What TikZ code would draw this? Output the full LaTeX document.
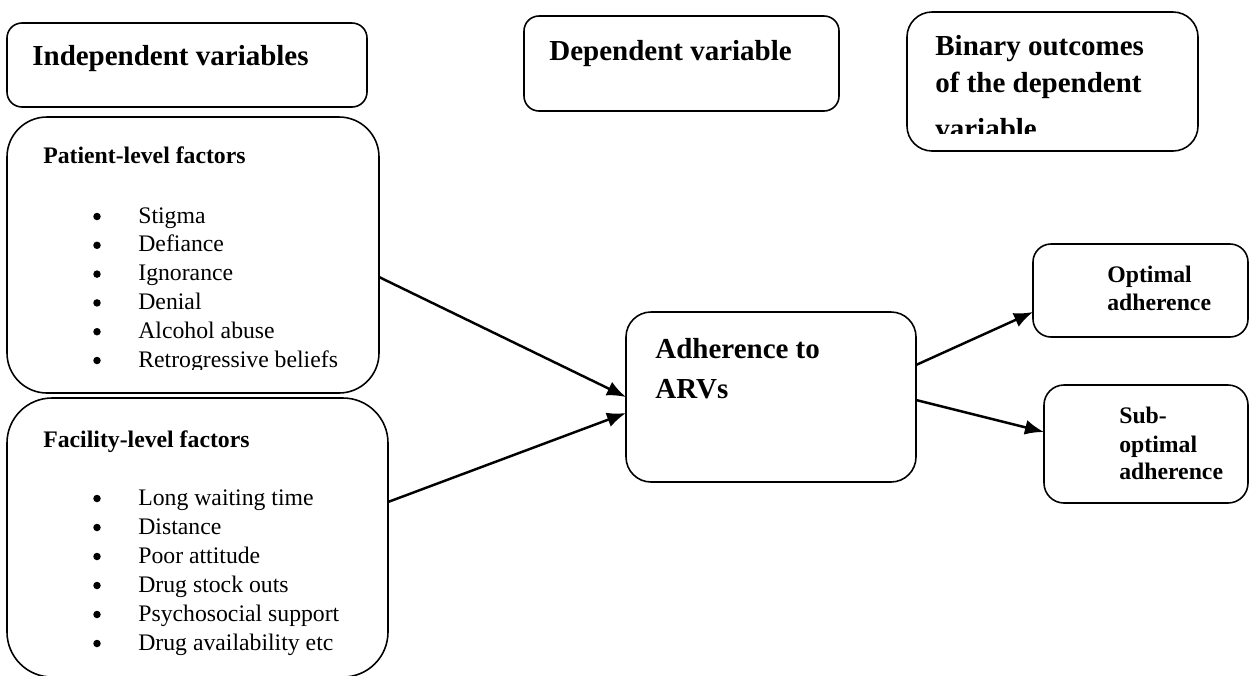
\documentclass[tikz,border=0pt]{standalone}
\usepackage{fontspec}
\setmainfont{Liberation Serif}
\usetikzlibrary{arrows.meta,positioning}
\tikzset{box/.style={draw,black,line width=0.9pt,rounded corners=#1,inner sep=0pt,outer sep=0pt}, box/.default=0.3cm}
\tikzset{hd/.style={font=\fontsize{16.5}{20}\selectfont\bfseries,inner sep=0pt,anchor=base west},
  sm/.style={font=\fontsize{13.5}{16}\selectfont\bfseries,inner sep=0pt,anchor=base west},
  itm/.style={font=\fontsize{13.5}{16}\selectfont,inner sep=0pt,anchor=base west},
  bul/.style={circle,fill=black,inner sep=0pt,minimum size=0.15cm},
  link/.style={black,-{Latex[length=0.38cm,width=0.3cm]},line width=1.4pt}}

\begin{document}
\begin{tikzpicture}
  \useasboundingbox (0,0) rectangle (25,-13.5);
  \clip (0,0) rectangle (25,-13.5);
  \node[box=0.3cm,  minimum width=7.20cm, minimum height=1.68cm] (ind) at ( 3.74, -1.30) {};
  \node[box=0.8cm,  minimum width=7.44cm, minimum height=5.52cm] (pat) at ( 3.86, -5.10) {};
  \node[box=0.9cm,  minimum width=7.62cm, minimum height=5.58cm] (fac) at ( 3.95,-10.75) {};
  \node[box=0.3cm,  minimum width=6.30cm, minimum height=1.90cm] (dep) at (13.63, -1.27) {};
  \node[box=0.5cm,  minimum width=5.82cm, minimum height=2.78cm] (bin) at (21.05, -1.63) {};
  \node[box=0.5cm,  minimum width=5.80cm, minimum height=3.40cm] (adh) at (15.42, -7.94) {};
  \node[box=0.36cm, minimum width=4.30cm, minimum height=1.86cm] (opt) at (22.81, -5.81) {};
  \node[box=0.4cm,  minimum width=4.08cm, minimum height=2.36cm] (sub) at (22.92, -8.88) {};

  \node[hd] (indt) at ([shift={(0.50,-0.84)}]ind.north west) {Independent variables};
  \node[hd] (dept) at ([shift={(0.50,-0.88)}]dep.north west) {Dependent variable};
  \node[hd] (bin1) at ([shift={(0.56,-0.86)}]bin.north west) {Binary outcomes};
  \node[hd] (bin2) at ([shift={(0.56,-1.60)}]bin.north west) {of the dependent};
  \begin{scope}
    \clip (17,-2.2) rectangle (25,-2.66);
    \node[hd] (bin3) at ([shift={(0.56,-2.52)}]bin.north west) {variable};
  \end{scope}
  \node[hd] (adh1) at ([shift={(0.58,-0.92)}]adh.north west) {Adherence to};
  \node[hd] (adh2) at ([shift={(0.58,-1.72)}]adh.north west) {ARVs};
  \node[sm] (opt1) at ([shift={(1.48,-0.76)}]opt.north west) {Optimal};
  \node[sm] (opt2) at ([shift={(1.48,-1.32)}]opt.north west) {adherence};
  \node[sm] (sub1) at ([shift={(1.50,-0.76)}]sub.north west) {Sub-};
  \node[sm] (sub2) at ([shift={(1.50,-1.34)}]sub.north west) {optimal};
  \node[sm] (sub3) at ([shift={(1.50,-1.88)}]sub.north west) {adherence};

  \node[sm] (patt) at ([shift={(0.72,-0.92)}]pat.north west) {Patient-level factors};
  \begin{scope}
    \clip (0,-2) rectangle (8,-7.38);
    \foreach \t [count=\i from 0] in {Stigma,Defiance,Ignorance,Denial,Alcohol abuse,Retrogressive beliefs} {
      \node[bul] (pb\i) at ([shift={(1.80,-1.99-0.576*\i)}]pat.north west) {};
      \node[itm] (pi\i) at ([shift={(2.62,-2.12-0.576*\i)}]pat.north west) {\t};
    }
  \end{scope}
  \node[sm] (fact) at ([shift={(0.72,-0.98)}]fac.north west) {Facility-level factors};
  \foreach \t [count=\i from 0] in {Long waiting time,Distance,Poor attitude,Drug stock outs,Psychosocial support,Drug availability etc} {
    \node[bul] (fb\i) at ([shift={(1.80,-2.01-0.58*\i)}]fac.north west) {};
    \node[itm] (fi\i) at ([shift={(2.62,-2.14-0.58*\i)}]fac.north west) {\t};
  }

  \draw[link] ([yshift=-0.44cm]pat.east) -- (adh.west);
  \draw[link] ([yshift=0.71cm]fac.east) -- ([yshift=-0.32cm]adh.west);
  \draw[link] ([yshift=0.64cm]adh.east) -- ([yshift=-0.43cm]opt.west);
  \draw[link] ([yshift=-0.06cm]adh.east) -- ([yshift=0.24cm]sub.west);
\end{tikzpicture}
\end{document}
